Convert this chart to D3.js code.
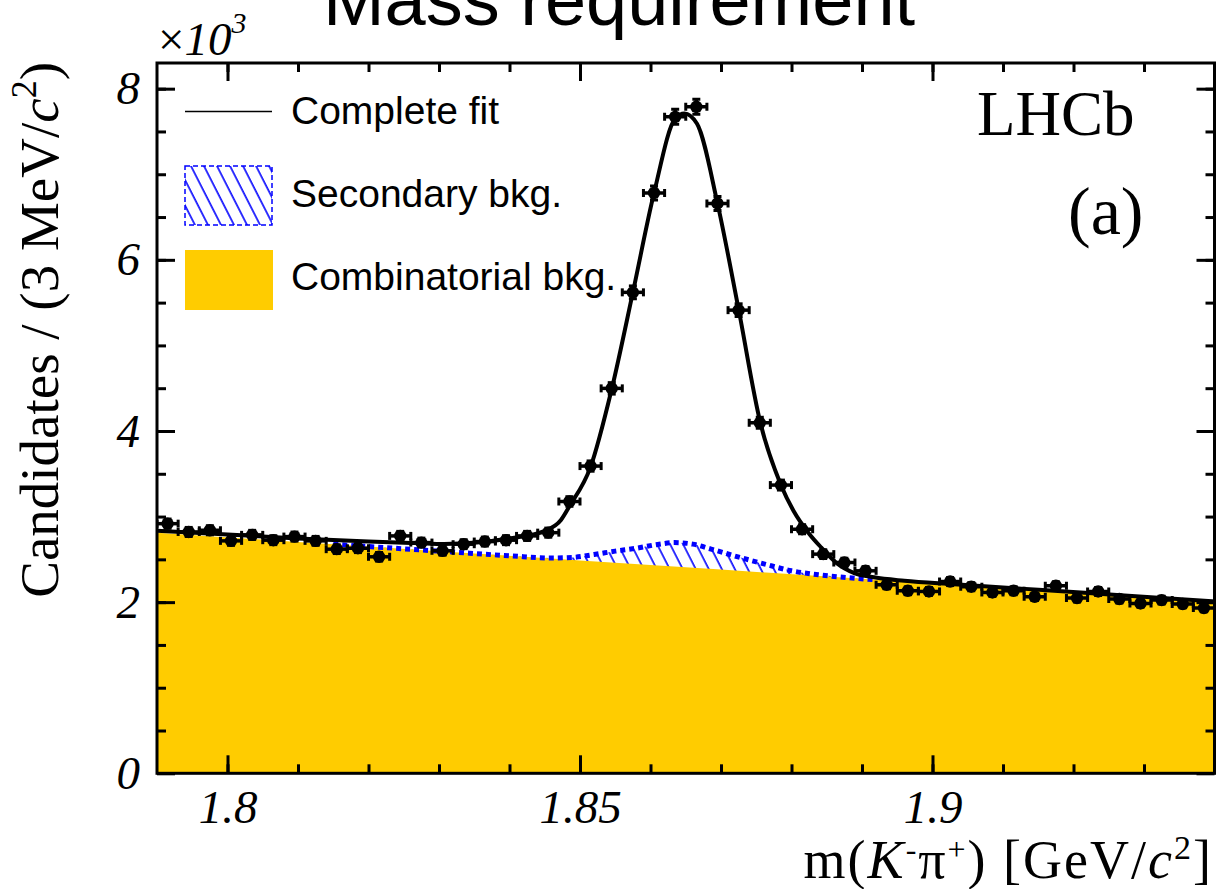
<!DOCTYPE html>
<html>
<head>
<meta charset="utf-8">
<script src="https://cdn.jsdelivr.net/npm/d3@7"></script>
<style>
  body { margin: 0; background: #ffffff; }
  svg { display: block; }
</style>
</head>
<body>
<svg id="chart" width="1219" height="889"></svg>
<script>
// m(K-pi+) bin centres [GeV/c^2], 3 MeV bins
const binCentres = [
  1.7915, 1.7945, 1.7975, 1.8005, 1.8035, 1.8065, 1.8095, 1.8125, 1.8155, 1.8185,
  1.8215, 1.8245, 1.8275, 1.8305, 1.8335, 1.8365, 1.8395, 1.8425, 1.8455, 1.8485,
  1.8515, 1.8545, 1.8575, 1.8605, 1.8635, 1.8665, 1.8695, 1.8725, 1.8755, 1.8785,
  1.8815, 1.8845, 1.8875, 1.8905, 1.8935, 1.8965, 1.8995, 1.9025, 1.9055, 1.9085,
  1.9115, 1.9145, 1.9175, 1.9205, 1.9235, 1.9265, 1.9295, 1.9325, 1.9355, 1.9385
];
const binHalfWidth = 0.0015;

// Candidates per bin, in units of 10^3
const candidates = [
  2.917, 2.820, 2.840, 2.716, 2.786, 2.724, 2.766, 2.716, 2.619, 2.630,
  2.530, 2.774, 2.696, 2.600, 2.677, 2.708, 2.724, 2.774, 2.812, 3.176,
  3.590, 4.498, 5.620, 6.782, 7.671, 7.788, 6.659, 5.412, 4.096, 3.368,
  2.852, 2.561, 2.463, 2.366, 2.203, 2.133, 2.125, 2.241, 2.180, 2.113,
  2.133, 2.063, 2.191, 2.048, 2.125, 2.036, 1.985, 2.024, 1.978, 1.931
];
// Statistical uncertainty per bin, in units of 10^3
const candidateErrors = [
  0.054, 0.053, 0.053, 0.052, 0.053, 0.052, 0.053, 0.052, 0.051, 0.051,
  0.050, 0.053, 0.052, 0.051, 0.052, 0.052, 0.052, 0.053, 0.053, 0.056,
  0.060, 0.067, 0.075, 0.082, 0.088, 0.088, 0.082, 0.074, 0.064, 0.058,
  0.053, 0.051, 0.050, 0.049, 0.047, 0.046, 0.046, 0.047, 0.047, 0.046,
  0.046, 0.045, 0.047, 0.045, 0.046, 0.045, 0.045, 0.045, 0.044, 0.044
];

// Complete fit
const fitMass = [
  1.7900, 1.8000, 1.8100, 1.8200, 1.8270, 1.8307, 1.8354, 1.8402, 1.8449, 1.8473,
  1.8485, 1.8515, 1.8545, 1.8575, 1.8605, 1.8635, 1.8648, 1.8666, 1.8695, 1.8725,
  1.8756, 1.8785, 1.8803, 1.8825, 1.8842, 1.8865, 1.8889, 1.8917, 1.8960, 1.9031,
  1.9126, 1.9221, 1.9315, 1.9400
];
const fitTotal = [
  2.835, 2.790, 2.745, 2.710, 2.690, 2.680, 2.697, 2.747, 2.830, 2.960,
  3.120, 3.580, 4.490, 5.620, 6.780, 7.650, 7.710, 7.590, 6.660, 5.420,
  4.090, 3.370, 3.065, 2.800, 2.640, 2.450, 2.340, 2.290, 2.250, 2.210,
  2.158, 2.106, 2.054, 2.008
];

// Combinatorial background component
const combMass = [1.79, 1.81, 1.83, 1.85, 1.87, 1.89, 1.91, 1.94];
const combBkg  = [2.812, 2.704, 2.596, 2.488, 2.380, 2.272, 2.164, 2.002];

// Combinatorial + secondary background
const secMass = [
  1.8150, 1.8300, 1.8400, 1.8460, 1.8490, 1.8520, 1.8550, 1.8580, 1.8610, 1.8634,
  1.8660, 1.8686, 1.8724, 1.8762, 1.8800, 1.8838, 1.8880, 1.8920
];
const secTop = [
  2.677, 2.596, 2.542, 2.516, 2.523, 2.557, 2.596, 2.630, 2.674, 2.696,
  2.678, 2.620, 2.529, 2.445, 2.366, 2.320, 2.286, 2.261
];

// Axis ticks
const xMajorTicks = [1.80, 1.85, 1.90];
const xTickLabels = ["1.8", "1.85", "1.9"];
const xMinorTicks = [1.80, 1.81, 1.82, 1.83, 1.84, 1.85, 1.86, 1.87, 1.88, 1.89,
                     1.90, 1.91, 1.92, 1.93];
const yMajorTicks = [0, 2, 4, 6, 8];
const yTickLabels = ["0", "2", "4", "6", "8"];
const yMinorTicks = [0.5, 1, 1.5, 2, 2.5, 3, 3.5, 4, 4.5, 5, 5.5, 6, 6.5, 7, 7.5, 8];

const legendLabels = ["Complete fit", "Secondary bkg.", "Combinatorial bkg."];

const COMB_FILL = "#ffcc00";
const SEC_BLUE = "#0000ff";

const frame = { left: 157, right: 1214.5, top: 63, bottom: 773.3 };

const svg = d3.select("#chart");

const x = d3.scaleLinear().domain([1.79, 1.94]).range([frame.left, frame.right]);
const y = d3.scaleLinear().domain([0, 8.3]).range([frame.bottom, frame.top]);

const defs = svg.append("defs");
defs.append("clipPath").attr("id", "plot-clip")
  .append("rect")
  .attr("x", frame.left).attr("y", frame.top)
  .attr("width", frame.right - frame.left)
  .attr("height", frame.bottom - frame.top);

const hatch = defs.append("pattern")
  .attr("id", "hatch")
  .attr("patternUnits", "userSpaceOnUse")
  .attr("width", 11.6).attr("height", 11.6)
  .attr("patternTransform", "rotate(-27)");
hatch.append("line")
  .attr("x1", 2).attr("y1", -1).attr("x2", 2).attr("y2", 12.6)
  .attr("stroke", SEC_BLUE).attr("stroke-width", 1.6);

const plot = svg.append("g").attr("clip-path", "url(#plot-clip)");

const combPts = combMass.map((m, i) => [m, combBkg[i]]);
const secPts = secMass.map((m, i) => [m, secTop[i]]);
const fitPts = fitMass.map((m, i) => [m, fitTotal[i]]);

// Secondary background: hatched band sitting on top of the combinatorial one
plot.append("path")
  .datum(secPts)
  .attr("fill", "url(#hatch)")
  .attr("d", d3.area().x(d => x(d[0])).y0(y(0)).y1(d => y(d[1])).curve(d3.curveMonotoneX));

// Combinatorial background fill
plot.append("path")
  .datum(combPts)
  .attr("fill", COMB_FILL)
  .attr("d", d3.area().x(d => x(d[0])).y0(y(0)).y1(d => y(d[1])).curve(d3.curveMonotoneX));

// Secondary background outline
plot.append("path")
  .datum(secPts)
  .attr("fill", "none")
  .attr("stroke", SEC_BLUE)
  .attr("stroke-width", 5)
  .attr("stroke-dasharray", "5 4")
  .attr("d", d3.line().x(d => x(d[0])).y(d => y(d[1])).curve(d3.curveMonotoneX));

// Complete fit
plot.append("path")
  .datum(fitPts)
  .attr("fill", "none")
  .attr("stroke", "#000")
  .attr("stroke-width", 4)
  .attr("stroke-linejoin", "round")
  .attr("d", d3.line().x(d => x(d[0])).y(d => y(d[1])).curve(d3.curveMonotoneX));

// Data points with error bars
const points = binCentres.map((m, i) => ({ m, v: candidates[i], e: candidateErrors[i] }));
const pt = plot.append("g").selectAll("g").data(points).join("g");
const CAP = 4;
pt.append("line") // horizontal bar
  .attr("x1", d => x(d.m - binHalfWidth)).attr("x2", d => x(d.m + binHalfWidth))
  .attr("y1", d => y(d.v)).attr("y2", d => y(d.v))
  .attr("stroke", "#000").attr("stroke-width", 3.5);
pt.append("line") // vertical bar
  .attr("x1", d => x(d.m)).attr("x2", d => x(d.m))
  .attr("y1", d => y(d.v - d.e)).attr("y2", d => y(d.v + d.e))
  .attr("stroke", "#000").attr("stroke-width", 3.5);
[-1, 1].forEach(s => {
  pt.append("line") // end marks of the bin-width bar
    .attr("x1", d => x(d.m + s * binHalfWidth)).attr("x2", d => x(d.m + s * binHalfWidth))
    .attr("y1", d => y(d.v) - CAP).attr("y2", d => y(d.v) + CAP)
    .attr("stroke", "#000").attr("stroke-width", 3);
  pt.append("line") // end marks of the uncertainty bar
    .attr("x1", d => x(d.m) - CAP).attr("x2", d => x(d.m) + CAP)
    .attr("y1", d => y(d.v + s * d.e)).attr("y2", d => y(d.v + s * d.e))
    .attr("stroke", "#000").attr("stroke-width", 3);
});
pt.append("circle")
  .attr("cx", d => x(d.m)).attr("cy", d => y(d.v)).attr("r", 6.2)
  .attr("fill", "#000");

// Axes with inward ticks on all four sides
const TICK_MAJOR = 18, TICK_MINOR = 9;
function styleAxis(g) {
  g.select(".domain").remove();
  g.selectAll(".tick line").attr("stroke", "#000").attr("stroke-width", 3);
  g.selectAll(".tick text")
    .attr("fill", "#000")
    .attr("font-family", "'Liberation Serif', 'Times New Roman', serif")
    .attr("font-style", "italic")
    .attr("font-size", 47);
}
svg.append("g").attr("transform", `translate(0,${frame.bottom})`)
  .call(d3.axisBottom(x).tickValues(xMinorTicks).tickSize(-TICK_MINOR).tickFormat(""))
  .call(styleAxis);
svg.append("g").attr("transform", `translate(0,${frame.bottom})`)
  .call(d3.axisBottom(x).tickValues(xMajorTicks).tickSize(-TICK_MAJOR).tickPadding(16)
    .tickFormat((d, i) => xTickLabels[i]))
  .call(styleAxis);
svg.append("g").attr("transform", `translate(0,${frame.top})`)
  .call(d3.axisTop(x).tickValues(xMinorTicks).tickSize(-TICK_MINOR).tickFormat(""))
  .call(styleAxis);
svg.append("g").attr("transform", `translate(0,${frame.top})`)
  .call(d3.axisTop(x).tickValues(xMajorTicks).tickSize(-TICK_MAJOR).tickFormat(""))
  .call(styleAxis);
svg.append("g").attr("transform", `translate(${frame.left},0)`)
  .call(d3.axisLeft(y).tickValues(yMinorTicks).tickSize(-TICK_MINOR).tickFormat(""))
  .call(styleAxis);
svg.append("g").attr("transform", `translate(${frame.left},0)`)
  .call(d3.axisLeft(y).tickValues(yMajorTicks).tickSize(-TICK_MAJOR).tickPadding(17)
    .tickFormat((d, i) => yTickLabels[i]))
  .call(styleAxis);
svg.append("g").attr("transform", `translate(${frame.right},0)`)
  .call(d3.axisRight(y).tickValues(yMinorTicks).tickSize(-TICK_MINOR).tickFormat(""))
  .call(styleAxis);
svg.append("g").attr("transform", `translate(${frame.right},0)`)
  .call(d3.axisRight(y).tickValues(yMajorTicks).tickSize(-TICK_MAJOR).tickFormat(""))
  .call(styleAxis);

// Frame
svg.append("rect")
  .attr("x", frame.left).attr("y", frame.top)
  .attr("width", frame.right - frame.left).attr("height", frame.bottom - frame.top)
  .attr("fill", "none").attr("stroke", "#000").attr("stroke-width", 3);

const SERIF = "'Liberation Serif', 'Times New Roman', serif";
const SANS = "'Liberation Sans', Arial, Helvetica, sans-serif";

// Title
svg.append("text")
  .attr("x", 619).attr("y", 25)
  .attr("text-anchor", "middle")
  .attr("font-family", SANS).attr("font-size", 74).attr("fill", "#000")
  .text("Mass requirement");

// Axis exponent
const expo = svg.append("text")
  .attr("x", 158).attr("y", 55)
  .attr("font-family", SERIF).attr("font-size", 47).attr("fill", "#000");
expo.append("tspan").text("\u00d7");
expo.append("tspan").attr("font-style", "italic").text("10");
expo.append("tspan").attr("font-style", "italic").attr("font-size", 30).attr("dy", -22).text("3");

// Y-axis title
const yTitle = svg.append("text")
  .attr("transform", "translate(58,62) rotate(-90)")
  .attr("text-anchor", "end")
  .attr("font-family", SERIF).attr("font-size", 55).attr("fill", "#000");
yTitle.append("tspan").text("Candidates / (3 MeV/");
yTitle.append("tspan").attr("font-style", "italic").text("c");
yTitle.append("tspan").attr("font-size", 36).attr("dy", -22).text("2");
yTitle.append("tspan").attr("dy", 22).text(")");

// X-axis title
const xTitle = svg.append("text")
  .attr("x", 1213).attr("y", 878)
  .attr("text-anchor", "end")
  .attr("letter-spacing", 2)
  .attr("font-family", SERIF).attr("font-size", 54).attr("fill", "#000");
xTitle.append("tspan").text("m(");
xTitle.append("tspan").attr("font-style", "italic").text("K");
xTitle.append("tspan").attr("font-size", 32).attr("dy", -18).text("-");
xTitle.append("tspan").attr("dy", 18).text("\u03c0");
xTitle.append("tspan").attr("font-size", 32).attr("dy", -18).text("+");
xTitle.append("tspan").attr("dy", 18).text(") [GeV/");
xTitle.append("tspan").attr("font-style", "italic").text("c");
xTitle.append("tspan").attr("font-size", 34).attr("dy", -19).text("2");
xTitle.append("tspan").attr("dy", 19).text("]");

// Experiment label and panel tag
svg.append("text")
  .attr("x", 977).attr("y", 135)
  .attr("font-family", SERIF).attr("font-size", 63).attr("fill", "#000")
  .text("LHCb");
svg.append("text")
  .attr("x", 1068).attr("y", 234)
  .attr("font-family", SERIF).attr("font-size", 68).attr("fill", "#000")
  .text("(a)");

// Legend
const legend = svg.append("g");
legend.append("line")
  .attr("x1", 185).attr("x2", 272).attr("y1", 111.5).attr("y2", 111.5)
  .attr("stroke", "#000").attr("stroke-width", 1.3);
legend.append("rect")
  .attr("x", 185).attr("y", 166).attr("width", 87).attr("height", 59)
  .attr("fill", "url(#hatch)")
  .attr("stroke", SEC_BLUE).attr("stroke-width", 1.5).attr("stroke-dasharray", "5 3");
legend.append("rect")
  .attr("x", 185).attr("y", 250).attr("width", 88).attr("height", 60)
  .attr("fill", COMB_FILL);
const legendBaselines = [124, 207, 290];
legend.selectAll("text.leg").data(legendLabels).join("text")
  .attr("class", "leg")
  .attr("x", 291).attr("y", (d, i) => legendBaselines[i])
  .attr("font-family", SANS).attr("font-size", 39).attr("fill", "#000")
  .text(d => d);
</script>
</body>
</html>
